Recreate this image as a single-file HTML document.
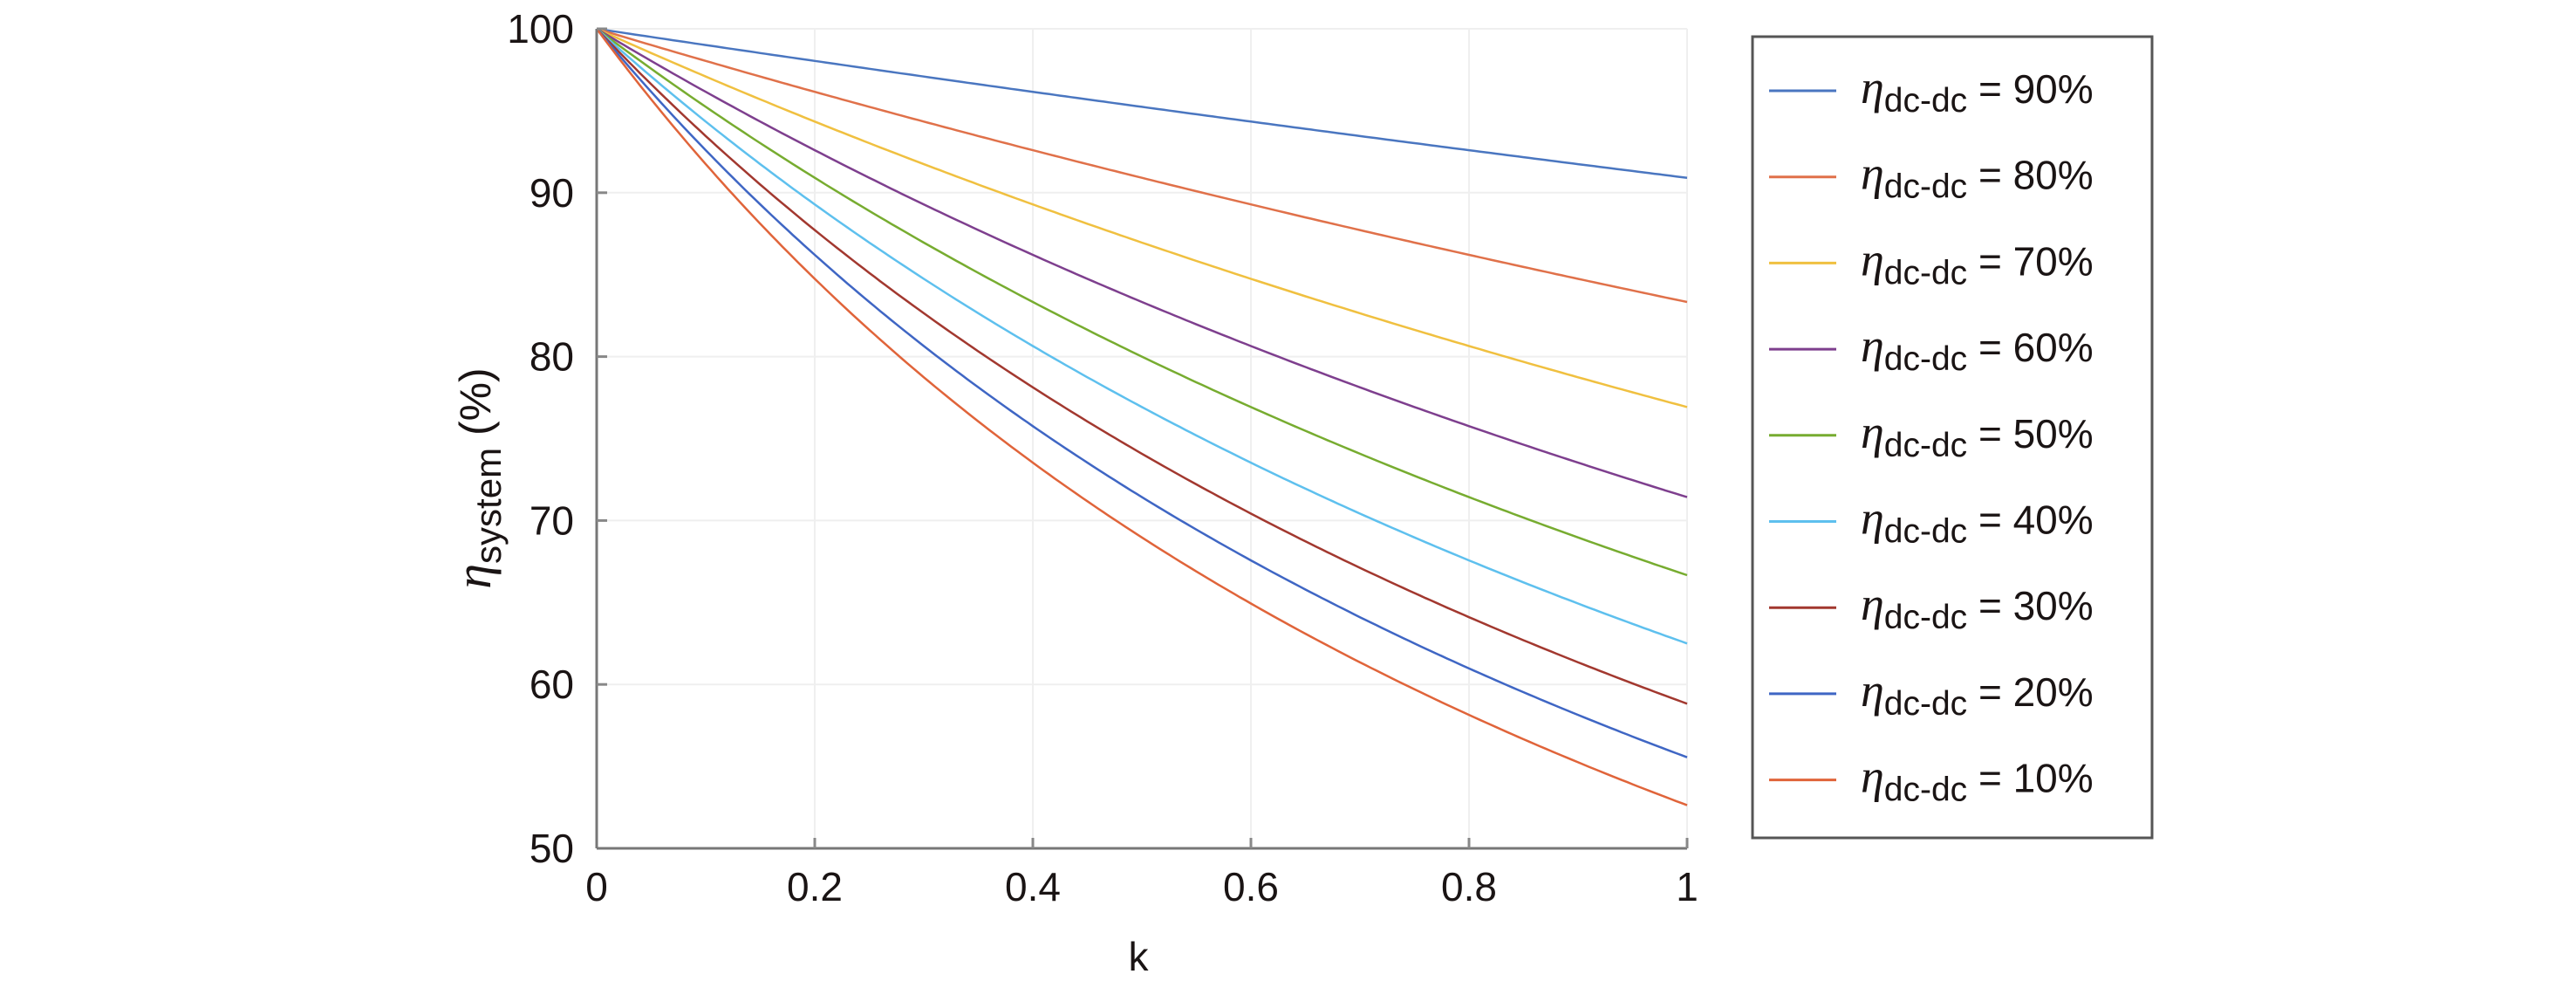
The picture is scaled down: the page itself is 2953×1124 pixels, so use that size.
<!DOCTYPE html>
<html><head><meta charset="utf-8"><style>
html,body{margin:0;padding:0;background:#fff;}
svg{display:block;font-family:"Liberation Sans",Arial,sans-serif;}
</style></head><body>
<svg id="s" width="2953" height="1124" viewBox="0 0 2953 1124" xmlns="http://www.w3.org/2000/svg">
<g id="grid" stroke="#efefef" stroke-width="2"></g>
<g id="curves" fill="none" stroke-width="2.5"></g>
<line x1="684" y1="33" x2="684" y2="972" stroke="#777" stroke-width="3"/>
<line x1="684" y1="972" x2="1934" y2="972" stroke="#777" stroke-width="3"/>
<g id="ticks" stroke="#888" stroke-width="3"></g>
<g id="labels" font-size="46" fill="#1a1414"></g>
<text x="1305" y="1112" font-size="46" text-anchor="middle" fill="#1a1414">k</text>
<text transform="translate(562,548) rotate(-90)" font-size="50" text-anchor="middle" fill="#1a1414"><tspan font-family="Liberation Serif" font-style="italic" font-size="58">η</tspan><tspan dy="12" font-size="42">system</tspan><tspan dy="-12"> (%)</tspan></text>
<rect x="2009" y="42" width="458" height="918" fill="none" stroke="#555" stroke-width="3"/>
<g id="legend" font-size="44" fill="#1a1414"></g>
</svg>
<script>
var NS="http://www.w3.org/2000/svg";
function el(t,a,p,txt){var e=document.createElementNS(NS,t);for(var k in a)e.setAttribute(k,a[k]);if(txt!=null)e.textContent=txt;p.appendChild(e);return e;}
var X0=684,X1=1934,Y100=33,Y50=972;
function px(k){return X0+k*(X1-X0);}
function py(v){return Y50-(v-50)/50*(Y50-Y100);}
var grid=document.getElementById('grid'),ticks=document.getElementById('ticks'),lab=document.getElementById('labels');
[0.2,0.4,0.6,0.8,1].forEach(function(k){el('line',{x1:px(k),y1:Y100,x2:px(k),y2:Y50},grid);el('line',{x1:px(k),y1:Y50,x2:px(k),y2:Y50-12},ticks);});
[60,70,80,90,100].forEach(function(v){el('line',{x1:X0,y1:py(v),x2:X1,y2:py(v)},grid);el('line',{x1:X0,y1:py(v),x2:X0+12,y2:py(v)},ticks);});
[50,60,70,80,90,100].forEach(function(v){el('text',{x:658,y:py(v)+16,'text-anchor':'end'},lab,String(v));});
[[0,'0'],[0.2,'0.2'],[0.4,'0.4'],[0.6,'0.6'],[0.8,'0.8'],[1,'1']].forEach(function(t){el('text',{x:px(t[0]),y:1032,'text-anchor':'middle'},lab,t[1]);});
var cols=['#4a76c0','#e0714a','#f0c040','#7e3f8e','#77ac30','#5ec0ee','#a2382f','#3f66c4','#e0643a'];
var effs=[90,80,70,60,50,40,30,20,10];
var cg=document.getElementById('curves'),lg=document.getElementById('legend');
effs.forEach(function(e,i){
  var d='';for(var j=0;j<=200;j++){var k=j/200;var v=100/(1+k*(1-e/100));d+=(j?'L':'M')+px(k).toFixed(1)+','+py(v).toFixed(1);}
  el('path',{d:d,stroke:cols[i]},cg);
  var y=104+i*98.7;
  el('line',{x1:2028,y1:y,x2:2105,y2:y,stroke:cols[i],'stroke-width':3},lg);
  var t=el('text',{x:2133,y:y+14},lg);
  el('tspan',{'font-family':'Liberation Serif','font-style':'italic','font-size':'54'},t,'η');
  el('tspan',{dy:10,'font-size':'39'},t,'dc-dc');
  el('tspan',{dy:-10,'font-size':'46'},t,' = '+e+'%');
});
</script>
</body></html>
